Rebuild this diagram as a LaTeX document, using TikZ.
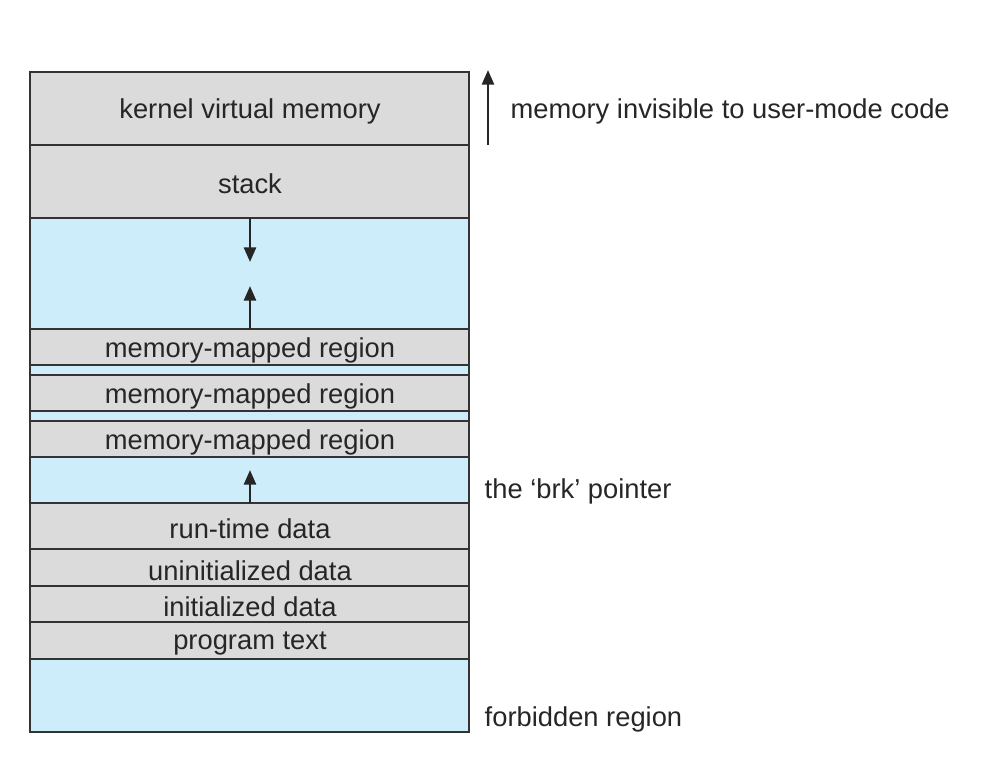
\documentclass[tikz,border=0pt]{standalone}
\usepackage{fontspec}
\setmainfont{Liberation Sans}
\usetikzlibrary{arrows.meta}
\tikzset{
 seg/.style={draw=black!80,line width=0.9pt},
 g/.style={seg,fill=gray!28},
 b/.style={seg,fill={rgb,255:red,206;green,237;blue,250}},
 lab/.style={font=\fontsize{20.5}{24}\selectfont,text=black!85},
 arr/.style={draw=black!85,line width=2pt,arrows={-Triangle[length=11pt,width=9pt]}}}
\begin{document}
\begin{tikzpicture}[x=0.75pt,y=-0.75pt]
\useasboundingbox (0,0) rectangle (983,769);
\def\xa{30}\def\xb{469}
\foreach \t/\bt/\s in {72/145/g,145/218/g,218/329/b,329/365/g,365/375/b,375/411/g,411/421/b,421/457/g,457/503/b,503/549/g,549/586/g,586/622/g,622/659/g,659/732/b}
  \draw[\s] (\xa,\t) rectangle (\xb,\bt);
\node[lab] (kvm) at (250,111) {kernel virtual memory};
\node[lab] (stk) at (250,184) {stack};
\node[lab] (m1) at (250,350) {memory-mapped region};
\node[lab] (m2) at (250,396) {memory-mapped region};
\node[lab] (m3) at (250,442) {memory-mapped region};
\node[lab] (rt) at (250,529) {run-time data};
\node[lab] (ud) at (250,571) {uninitialized data};
\node[lab] (id) at (250,607) {initialized data};
\node[lab] (pt) at (250,643) {program text};
\node[lab,anchor=west] (inv) at (506,111) {memory invisible to user-mode code};
\node[lab,anchor=west] (brk) at (480,491) {the ‘brk’ pointer};
\node[lab,anchor=west] (fb) at (480,719) {forbidden region};
\coordinate (s0) at (250,218); \coordinate (s1) at (250,262);
\coordinate (h0) at (250,329); \coordinate (h1) at (250,286);
\coordinate (r0) at (250,503); \coordinate (r1) at (250,470);
\coordinate (k0) at (488,145); \coordinate (k1) at (488,70);
\draw[arr] (s0) -- (s1);
\draw[arr] (h0) -- (h1);
\draw[arr] (r0) -- (r1);
\draw[arr] (k0) -- (k1);
\end{tikzpicture}
\end{document}
